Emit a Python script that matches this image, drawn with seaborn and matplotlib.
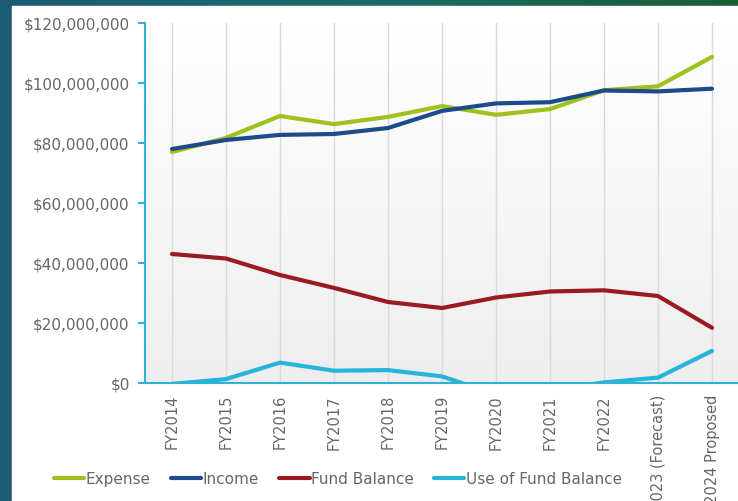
import numpy as np
import pandas as pd
import matplotlib
matplotlib.use("Agg")
import matplotlib.pyplot as plt
from matplotlib.ticker import StrMethodFormatter
import seaborn as sns

years = ["FY2014", "FY2015", "FY2016", "FY2017", "FY2018", "FY2019",
         "FY2020", "FY2021", "FY2022", "FY2023 (Forecast)", "FY2024 Proposed"]
expense = [77.0, 81.7, 89.0, 86.3, 88.7, 92.3, 89.4, 91.3, 97.6, 98.9, 108.7]
income = [78.0, 81.0, 82.7, 83.0, 85.0, 90.7, 93.2, 93.6, 97.5, 97.2, 98.1]
fund_balance = [43.0, 41.5, 36.0, 31.7, 27.0, 25.0, 28.5, 30.5, 30.9, 29.0, 18.4]
use_of_fund = [-0.3, 1.3, 6.8, 4.1, 4.3, 2.2, -3.8, -2.3, 0.2, 1.8, 10.7]

series = {
    "Expense": expense,
    "Income": income,
    "Fund Balance": fund_balance,
    "Use of Fund Balance": use_of_fund,
}
colors = {
    "Expense": "#9dc21e",
    "Income": "#1c4a8a",
    "Fund Balance": "#9a1a22",
    "Use of Fund Balance": "#27b4d9",
}

rows = []
for name, vals in series.items():
    for yr, v in zip(years, vals):
        rows.append({"year": yr, "value": v * 1e6, "series": name})
df = pd.DataFrame(rows)

sns.set_style("white")
plt.rcParams["font.family"] = ["DejaVu Sans"]

fig = plt.figure(figsize=(7.38, 5.02), dpi=100)
fig.patch.set_facecolor("#1d5a74")

# background: teal->green strip on top, white card below
bg = fig.add_axes([0, 0, 1, 1], zorder=-10)
grad = np.linspace(0, 1, 256).reshape(1, -1)
cmap_top = matplotlib.colors.LinearSegmentedColormap.from_list("top", ["#1d5a74", "#1f6a6a", "#1a5e34"])
bg.imshow(grad, extent=(0, 1, 0, 1), aspect="auto", cmap=cmap_top)
bg.add_patch(plt.Rectangle((12 / 738, 0), 1, 1 - 7 / 502, color="white"))
bg.set_xlim(0, 1)
bg.set_ylim(0, 1)
bg.axis("off")

ax = fig.add_axes([145 / 738, 1 - 384 / 502, 594 / 738, 360 / 502])
ax.set_facecolor("none")

# light gradient in plot area
vgrad = np.linspace(1, 0, 256).reshape(-1, 1)
cmap_area = matplotlib.colors.LinearSegmentedColormap.from_list("area", ["#eeeeee", "#ffffff"])
ax.imshow(vgrad, extent=(-0.5, 10.5, 0, 120e6), aspect="auto", cmap=cmap_area, zorder=0)

sns.lineplot(data=df, x="year", y="value", hue="series", palette=colors,
             linewidth=3, sort=False, legend=False, ax=ax, zorder=3)

ax.set_xlim(-0.5, 10.5)
ax.set_ylim(0, 120e6)
ax.set_yticks(np.arange(0, 120e6 + 1, 20e6))
ax.yaxis.set_major_formatter(StrMethodFormatter("${x:,.0f}"))
ax.set_xlabel("")
ax.set_ylabel("")

for i in range(len(years)):
    ax.axvline(i, color="#d9d9d9", linewidth=1, zorder=1)

for s in ["top", "right"]:
    ax.spines[s].set_visible(False)
for s in ["left", "bottom"]:
    ax.spines[s].set_color("#2fb3cf")
    ax.spines[s].set_linewidth(1.5)

ax.tick_params(axis="y", colors="#666666", labelsize=11, length=5, width=1.5,
               direction="out", left=True, pad=6)
ax.tick_params(axis="y", color="#2fb3cf")
ax.tick_params(axis="x", colors="#666666", labelsize=10.5, length=0, pad=8)
plt.setp(ax.get_xticklabels(), rotation=90, va="top", ha="center")

handles = [plt.Line2D([], [], color=colors[n], linewidth=3) for n in series]
fig.legend(handles, list(series.keys()), loc="center left",
           bbox_to_anchor=(40 / 738, 1 - 480 / 502), ncol=4, frameon=False,
           fontsize=11, handlelength=2.0, handletextpad=0.1, columnspacing=1.3,
           labelcolor="#666666")

fig.savefig("out.png", dpi=100)
